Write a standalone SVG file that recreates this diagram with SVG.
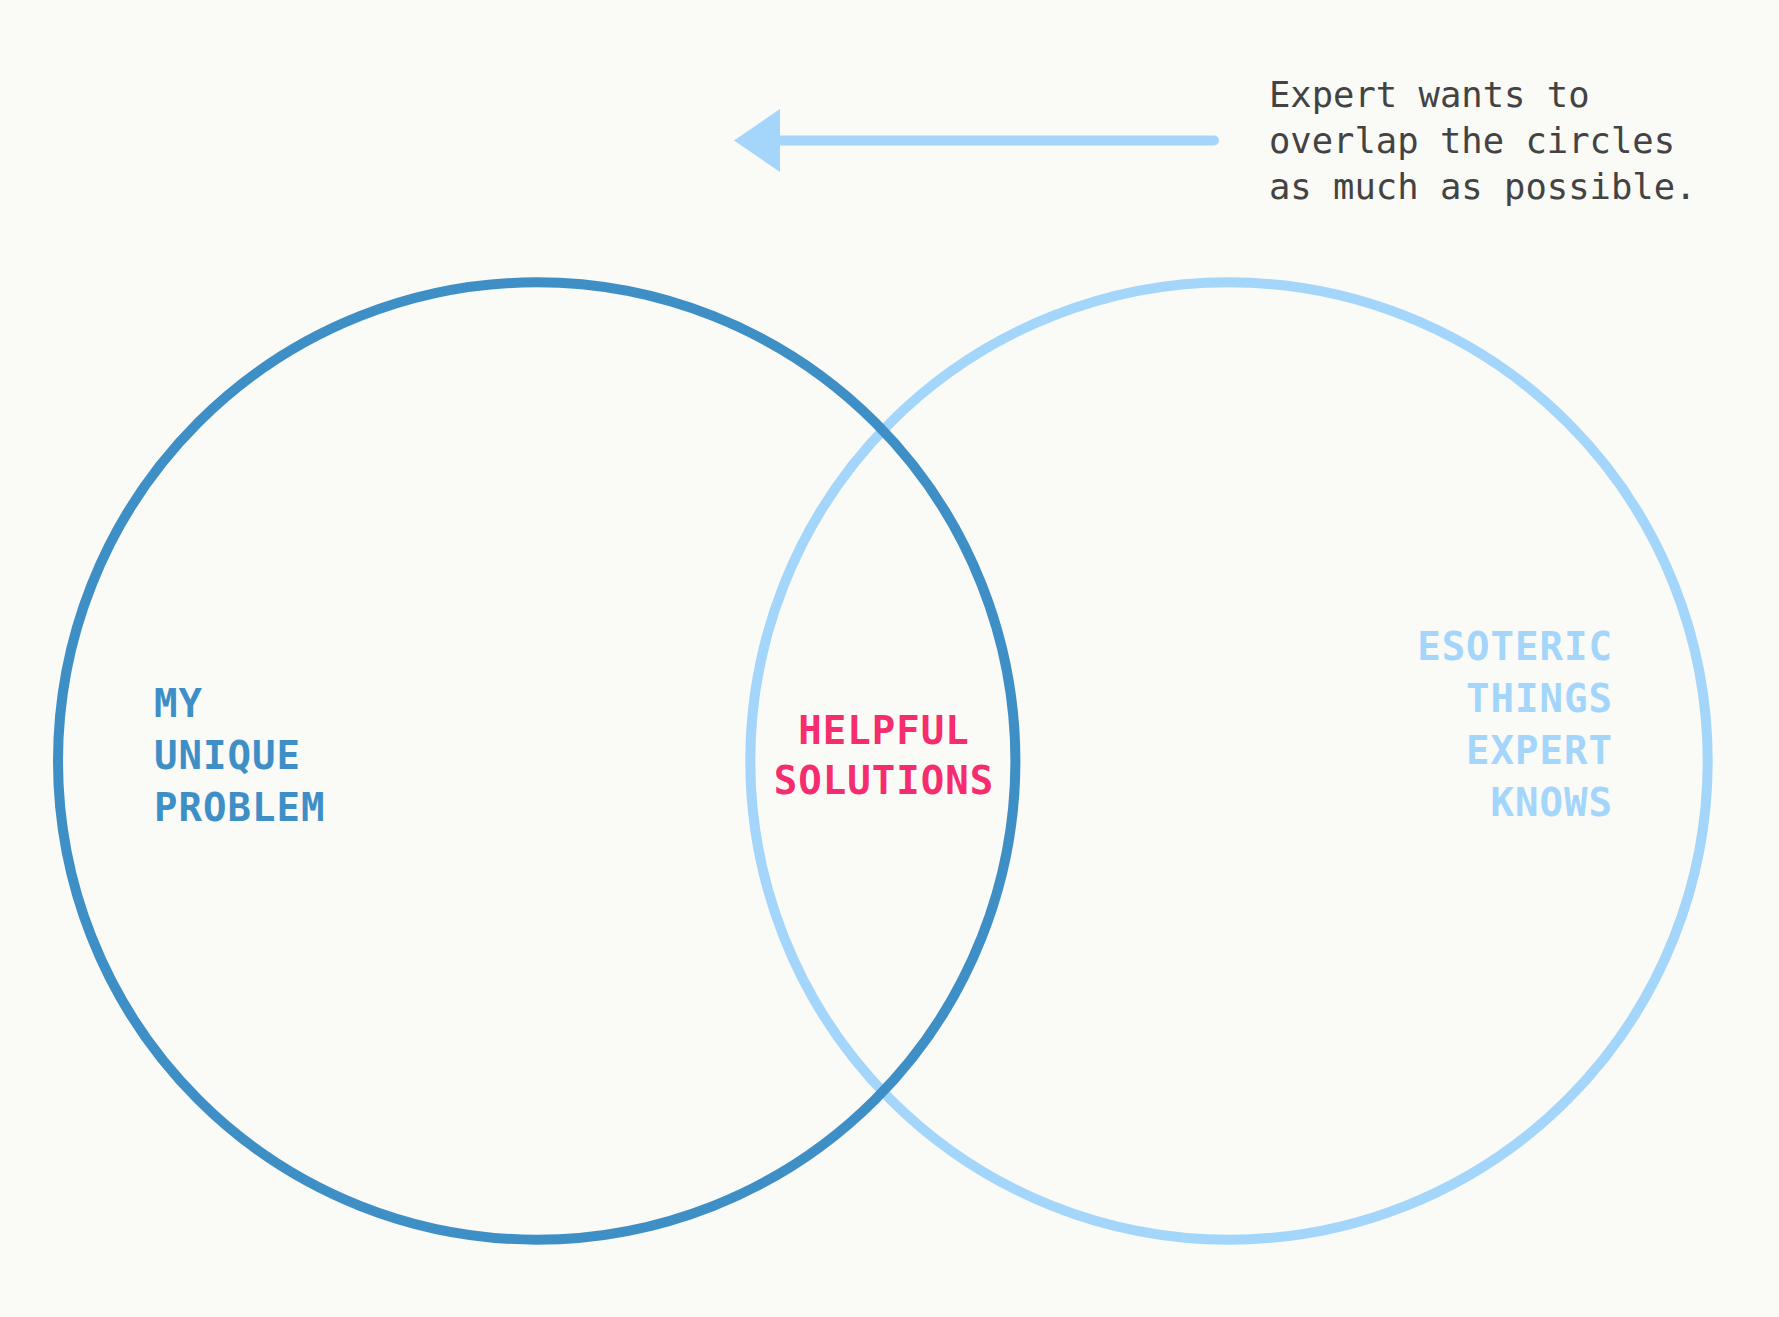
<svg xmlns="http://www.w3.org/2000/svg" width="1779" height="1317" viewBox="0 0 1779 1317">
<style>
.c{fill:none;stroke-width:10}
.lbl{font-family:"DejaVu Sans Mono","Liberation Mono",monospace;font-weight:bold;font-size:39px;letter-spacing:1px}
.note{font-family:"DejaVu Sans Mono","Liberation Mono",monospace;font-size:35.5px;fill:#434343}
</style>
<rect width="1779" height="1317" fill="#fafaf7"/>
<g id="circle-expert"><circle class="c" cx="1229" cy="761" r="478.7" stroke="#a3d6fa"/></g>
<g id="circle-problem"><circle class="c" cx="536.7" cy="761" r="478.7" stroke="#3f8fc7"/></g>
<g id="label-problem" class="lbl" fill="#3f8fc7">
<text x="154" y="717">MY</text>
<text x="154" y="768.5">UNIQUE</text>
<text x="154" y="820.5">PROBLEM</text>
</g>
<g id="label-solutions" class="lbl" fill="#f52d6e" text-anchor="middle">
<text x="884" y="743.5">HELPFUL</text>
<text x="884" y="793.5">SOLUTIONS</text>
</g>
<g id="label-expert" class="lbl" fill="#a3d6fa" text-anchor="end">
<text x="1613" y="659.5">ESOTERIC</text>
<text x="1613" y="711.5">THINGS</text>
<text x="1613" y="764">EXPERT</text>
<text x="1613" y="816">KNOWS</text>
</g>
<g id="connectors">
<line x1="1214" y1="140.5" x2="775" y2="140.5" stroke="#a3d6fa" stroke-width="10" stroke-linecap="round"/>
<polygon points="734,140.5 780,109 780,172" fill="#a3d6fa"/>
</g>
<g id="note" class="note">
<text x="1269" y="107">Expert wants to</text>
<text x="1269" y="153">overlap the circles</text>
<text x="1269" y="199">as much as possible.</text>
</g>
</svg>
